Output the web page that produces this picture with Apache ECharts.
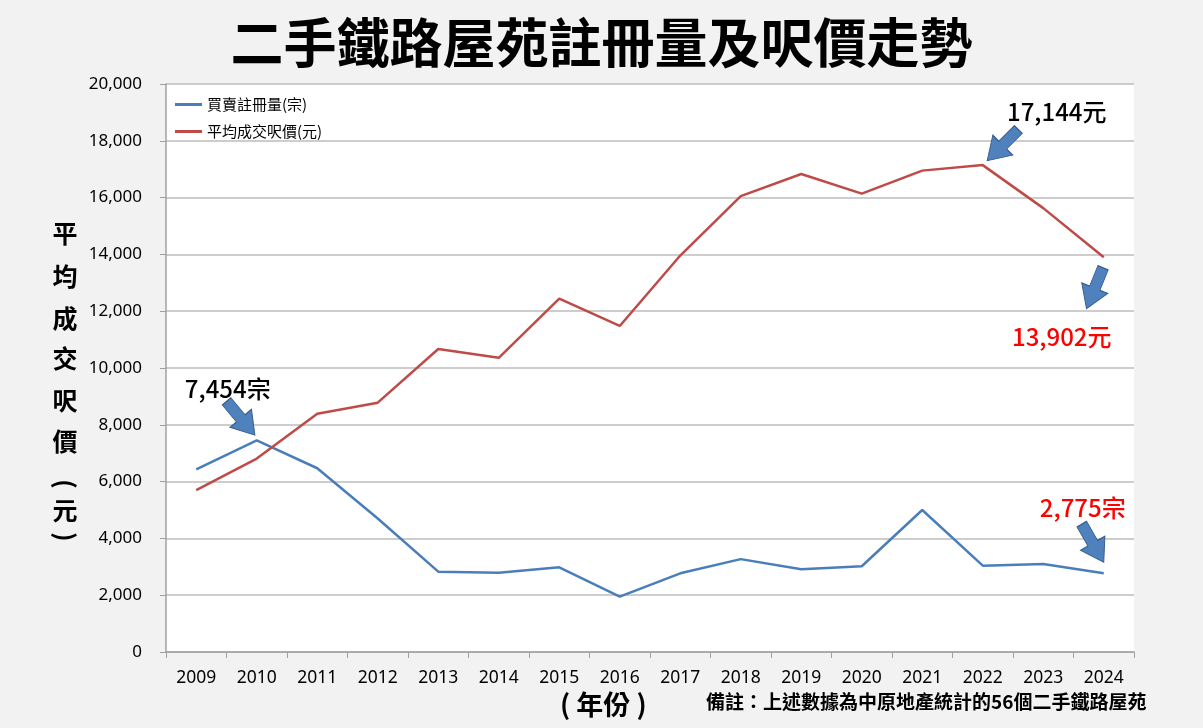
<!DOCTYPE html>
<html>
<head>
<meta charset="utf-8">
<script src="https://cdn.jsdelivr.net/npm/echarts@6/dist/echarts.min.js"></script>
<style>
html,body{margin:0;padding:0;background:#f2f2f2;}
#c{width:1203px;height:728px;}
</style>
</head>
<body>
<div id="c"></div>
<script>
const years = ['2009','2010','2011','2012','2013','2014','2015','2016','2017','2018','2019','2020','2021','2022','2023','2024'];
const registrations = [6430, 7454, 6470, 4700, 2830, 2790, 2980, 1950, 2770, 3270, 2910, 3020, 5000, 3040, 3100, 2775];
const avgPrice = [5700, 6810, 8390, 8780, 10670, 10360, 12440, 11480, 13960, 16050, 16830, 16140, 16950, 17144, 15630, 13902];
const yTicks = {min: 0, max: 20000, interval: 2000};
const seriesNames = ['買賣註冊量(宗)', '平均成交呎價(元)'];
const titleText = '二手鐵路屋苑註冊量及呎價走勢';
const yAxisLabelChars = ['平','均','成','交','呎','價','(','元',')'];
const noteText = '備註：上述數據為中原地產統計的56個二手鐵路屋苑';
const xAxisTitle = '( 年份 )';

const FONT = '"Noto Sans CJK TC", "Noto Sans", sans-serif';
const NUMFONT = '"Noto Sans", "Noto Sans CJK TC", sans-serif';
const arrowPath = 'path://M3,0 L7,0 L7,6.5 L10,6.5 L5,13 L0,6.5 L3,6.5 Z';

function arrowItem(x, y, rot, offset) {
  return {
    coord: [x, y], symbol: arrowPath, symbolSize: [28, 44], symbolKeepAspect: false,
    symbolRotate: rot, symbolOffset: offset,
    itemStyle: {color: '#4f81bd', borderColor: '#385d8a', borderWidth: 1},
    label: {show: false}
  };
}
function textItem(x, y, text, color, offset) {
  return {
    coord: [x, y], symbol: 'rect', symbolSize: 1,
    itemStyle: {color: 'rgba(0,0,0,0)'},
    label: {show: true, formatter: text, color: color, fontSize: 24, fontWeight: 500, fontFamily: FONT,
      position: 'inside', offset: offset}
  };
}

const yLabelY = [233, 276, 318, 358, 400, 441, 484, 510, 537];
const graphics = [
  {type: 'text', left: 'center', top: 16, style: {text: titleText, fontSize: 53, fontWeight: 'bold', fontFamily: FONT, fill: '#000'}},
  {type: 'text', left: 560, top: 691, style: {text: xAxisTitle, fontSize: 27, fontWeight: 'bold', fontFamily: FONT, fill: '#000'}},
  {type: 'text', left: 706, top: 692, style: {text: noteText, fontSize: 19, fontWeight: 'bold', fontFamily: FONT, fill: '#000'}}
].concat(yAxisLabelChars.map((ch, i) => {
  const isParen = (ch === '(' || ch === ')');
  return {
    type: 'text', x: 65, y: yLabelY[i], rotation: isParen ? -Math.PI / 2 : 0,
    style: {text: ch, fontSize: 25, fontWeight: 'bold', fontFamily: FONT, fill: '#000', align: 'center', verticalAlign: 'middle'}
  };
}));

const chart = echarts.init(document.getElementById('c'));
chart.setOption({
  backgroundColor: '#f2f2f2',
  animation: false,
  graphic: graphics,
  grid: {left: 166, right: 69, top: 84, bottom: 76, show: true, backgroundColor: '#ffffff', borderWidth: 0},
  legend: {
    orient: 'vertical', left: 170, top: 92, itemGap: 12,
    icon: 'rect', itemWidth: 27, itemHeight: 3,
    textStyle: {fontSize: 15, color: '#000', fontFamily: FONT},
    data: seriesNames
  },
  xAxis: {
    type: 'category', data: years, boundaryGap: true,
    axisLine: {lineStyle: {color: '#a0a0a0', width: 1.5}},
    axisTick: {show: true, length: 6, lineStyle: {color: '#a0a0a0'}},
    axisLabel: {fontSize: 17.5, color: '#000', margin: 17, fontFamily: NUMFONT}
  },
  yAxis: {
    type: 'value', min: yTicks.min, max: yTicks.max, interval: yTicks.interval,
    axisLine: {show: true, lineStyle: {color: '#a0a0a0', width: 1.5}},
    axisTick: {show: true, inside: false, length: 6, lineStyle: {color: '#a0a0a0'}},
    axisLabel: {fontSize: 17, color: '#000', margin: 24, fontFamily: NUMFONT,
      formatter: v => v.toLocaleString('en-US')},
    splitLine: {lineStyle: {color: '#bdbdbd', width: 1.5}}
  },
  series: [
    {
      name: seriesNames[0], type: 'line', data: registrations, symbol: 'none',
      lineStyle: {color: '#4a7ebb', width: 2.5}, itemStyle: {color: '#4a7ebb'},
      markPoint: {
        silent: true,
        data: [
          arrowItem(years[1], registrations[1], 40, [-16, -22]),
          textItem(years[1], registrations[1], '7,454宗', '#000', [-29, -51]),
          arrowItem(years[15], registrations[15], 30, [-11, -30]),
          textItem(years[15], registrations[15], '2,775宗', '#ff0000', [-21, -65])
        ]
      }
    },
    {
      name: seriesNames[1], type: 'line', data: avgPrice, symbol: 'none',
      lineStyle: {color: '#be4b48', width: 2.5}, itemStyle: {color: '#be4b48'},
      markPoint: {
        silent: true,
        data: [
          arrowItem(years[13], avgPrice[13], -45, [20, -20]),
          textItem(years[13], avgPrice[13], '17,144元', '#000', [74, -53]),
          arrowItem(years[15], avgPrice[15], -22, [-9, 31]),
          textItem(years[15], avgPrice[15], '13,902元', '#ff0000', [-42, 80])
        ]
      }
    }
  ]
});
</script>
</body>
</html>
